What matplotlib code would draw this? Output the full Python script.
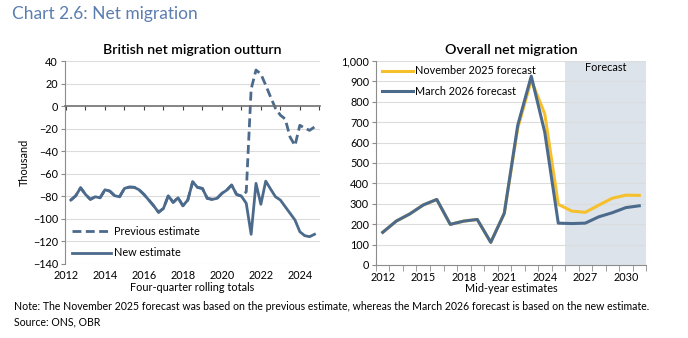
import numpy as np
import matplotlib
matplotlib.use("Agg")
import matplotlib.pyplot as plt
from matplotlib.ticker import FuncFormatter

plt.rcParams['font.family'] = ['Lato', 'DejaVu Sans']

# British net migration outturn, four-quarter rolling totals (thousand), quarterly from 2012 Q2
new_estimate = [-83.3, -79.5, -72.4, -78.3, -82.7, -80.4, -81.3, -74.2, -75.4, -79.5,
                -80.4, -73.0, -71.8, -72.0, -74.2, -78.3, -83.3, -88.4, -94.2, -90.7,
                -79.5, -85.4, -81.3, -88.4, -83.3, -67.1, -72.1, -73.0, -81.8, -82.7,
                -81.8, -77.4, -74.5, -70.0, -78.3, -79.8, -86.2, -113.7, -68.5, -87.1,
                -66.5, -73.6, -80.4, -83.3, -89.2, -95.1, -101.0, -111.4, -114.9, -115.8,
                -113.7]
# previous estimate matches the new one up to 2021 Q1
prev_tail = [-76.0, 15.0, 32.0, 28.5, 18.5, 8.0, -2.0, -8.0, -11.5, -27.5,
             -35.0, -17.0, -19.5, -21.5, -18.5]
previous_estimate = new_estimate[:36] + prev_tail
quarters = 2012.25 + 0.25 * np.arange(len(new_estimate))

# Overall net migration, mid-year estimates (thousand)
years = np.arange(2012, 2032)
nov_2025 = [160, 215, 250, 294, 321, 199, 215, 223, 111, 253,
            670, 905, 740, 297, 264, 258, 293, 327, 342, 341]
mar_2026 = [160, 215, 250, 294, 321, 199, 215, 223, 111, 253,
            685, 925, 650, 205, 203, 205, 236, 256, 281, 290]
forecast_start = 2025.5

dark = '#4c6a8b'
gold = '#f6c02c'
grid_c = '#dcdcdc'
axis_c = '#8c8c8c'
fs = 7.8

fig = plt.figure(figsize=(6.88, 3.38), dpi=100)
fig.text(0.018, 0.945, 'Chart 2.6: Net migration', fontsize=12.5, color='#5b7db0')

# ---- left panel ----
ax1 = fig.add_axes([0.0945, 0.219, 0.3705, 0.6005])
ax1.plot(quarters, previous_estimate, color=dark, lw=2.0, ls=(0, (3.2, 1.6)),
         label='Previous estimate')
ax1.plot(quarters, new_estimate, color=dark, lw=2.0, label='New estimate')
ax1.set_xlim(2011.95, 2025.03)
ax1.set_ylim(-140, 40)
ax1.set_yticks(np.arange(-140, 41, 20))
for y in np.arange(-140, 41, 20):
    if y != 0:
        ax1.axhline(y, color=grid_c, lw=0.8, zorder=0)
ax1.spines['top'].set_visible(False)
ax1.spines['right'].set_visible(False)
ax1.spines['left'].set_color(axis_c)
ax1.spines['bottom'].set_position(('data', 0))
ax1.spines['bottom'].set_color('#707070')
ax1.spines['bottom'].set_linewidth(1.2)
ax1.set_xticks(np.arange(2012, 2026))
ax1.tick_params(axis='x', direction='out', length=3, color='#404040', labelbottom=False)
ax1.tick_params(axis='y', length=3, color=axis_c, labelsize=fs, pad=2)
sec = ax1.secondary_xaxis(0.0)
sec.set_xticks(np.arange(2012, 2025, 2))
sec.tick_params(length=0, labelsize=fs, pad=4)
sec.spines['bottom'].set_visible(False)
sec.set_xlabel('Four-quarter rolling totals', fontsize=fs, labelpad=1)
ax1.set_ylabel('Thousand', fontsize=fs, labelpad=2)
ax1.set_title('British net migration outturn', fontsize=10.2, fontweight='semibold', pad=5)
ax1.legend(loc='lower left', bbox_to_anchor=(0.0, -0.005), frameon=False, fontsize=fs,
           handlelength=3.6, labelspacing=1.0, handletextpad=0.3, borderaxespad=0.2)

# ---- right panel ----
ax2 = fig.add_axes([0.5465, 0.216, 0.3925, 0.604])
ax2.axvspan(forecast_start, 2031.5, color='#dce3ea', zorder=0, lw=0)
ax2.text(2028.5, 965, 'Forecast', fontsize=fs, ha='center', va='center')
ax2.plot(years, nov_2025, color=gold, lw=2.2, label='November 2025 forecast')
ax2.plot(years, mar_2026, color=dark, lw=2.2, label='March 2026 forecast')
ax2.set_xlim(2011.5, 2031.5)
ax2.set_ylim(0, 1000)
ax2.set_yticks(np.arange(0, 1001, 100))
ax2.yaxis.set_major_formatter(FuncFormatter(lambda v, p: f'{int(v):,}'))
for y in np.arange(100, 1001, 100):
    ax2.axhline(y, color=grid_c, lw=0.8, zorder=0.5)
ax2.spines['top'].set_visible(False)
ax2.spines['right'].set_visible(False)
ax2.spines['left'].set_color(axis_c)
ax2.spines['bottom'].set_color(axis_c)
ax2.set_xticks(np.arange(2012, 2031, 3))
ax2.set_xticks(np.arange(2011.5, 2032, 1), minor=True)
ax2.tick_params(axis='x', which='major', length=0, labelsize=fs, pad=5)
ax2.tick_params(axis='x', which='minor', length=4, color=axis_c)
ax2.tick_params(axis='y', length=3, color=axis_c, labelsize=fs, pad=2)
ax2.set_xlabel('Mid-year estimates', fontsize=fs, labelpad=0)
ax2.set_title('Overall net migration', fontsize=10.2, fontweight='semibold', pad=5)
ax2.legend(loc='upper left', bbox_to_anchor=(0.0, 1.01), frameon=False, fontsize=fs,
           handlelength=2.8, labelspacing=0.9, handletextpad=0.2, borderaxespad=0.2)

fig.text(0.02, 0.083, 'Note: The November 2025 forecast was based on the previous estimate, '
         'whereas the March 2026 forecast is based on the new estimate.', fontsize=7.6)
fig.text(0.02, 0.038, 'Source: ONS, OBR', fontsize=7.6)

fig.savefig('out.png', dpi=100)
